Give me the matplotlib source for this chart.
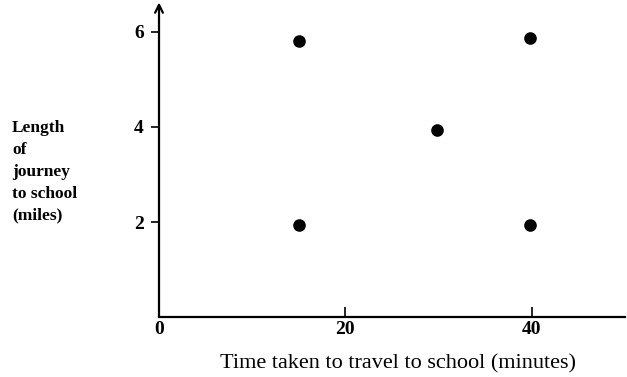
import matplotlib.pyplot as plt

# minutes vs miles
time_taken = [15, 39.8, 29.8, 15, 39.8]
journey_length = [5.8, 5.87, 3.93, 1.93, 1.93]

x_ticks = [0, 20, 40]
y_ticks = [2, 4, 6]

plt.rcParams['font.family'] = ['Liberation Serif', 'DejaVu Serif']

fig = plt.figure(figsize=(6.27, 3.77), dpi=100)
ax = fig.add_axes([0.2536, 0.159, 0.7432, 0.832])

ax.scatter(time_taken, journey_length, s=65, color='black', zorder=3)

ax.set_xlim(0, 50)
ax.set_ylim(0, 6.6)

for side in ['top', 'right', 'left']:
    ax.spines[side].set_visible(False)
ax.spines['bottom'].set_linewidth(1.6)

# y axis with an open arrow head
ax.annotate('', xy=(0, 6.62), xytext=(0, 0), xycoords='data',
            arrowprops=dict(arrowstyle='->', lw=1.6, color='black',
                            mutation_scale=14, shrinkA=0, shrinkB=0),
            annotation_clip=False)

ax.set_xticks(x_ticks)
ax.set_xticklabels([str(v) for v in x_ticks], fontsize=14, fontweight='bold')
ax.tick_params(axis='x', direction='in', length=7, width=1.2, pad=3)
ax.xaxis.get_major_ticks()[0].tick1line.set_visible(False)

ax.set_yticks(y_ticks)
ax.set_yticklabels([str(v) for v in y_ticks], fontsize=14, fontweight='bold')
ax.tick_params(axis='y', direction='out', length=6, width=1.2, pad=5)

fig.text(0.635, 0.036, 'Time taken to travel to school (minutes)',
         ha='center', va='center', fontsize=16)
fig.text(0.019, 0.683, 'Length\nof\njourney\nto school\n(miles)',
         ha='left', va='top', fontsize=12.5, fontweight='bold', linespacing=1.5)

fig.savefig('out.png', dpi=100)
